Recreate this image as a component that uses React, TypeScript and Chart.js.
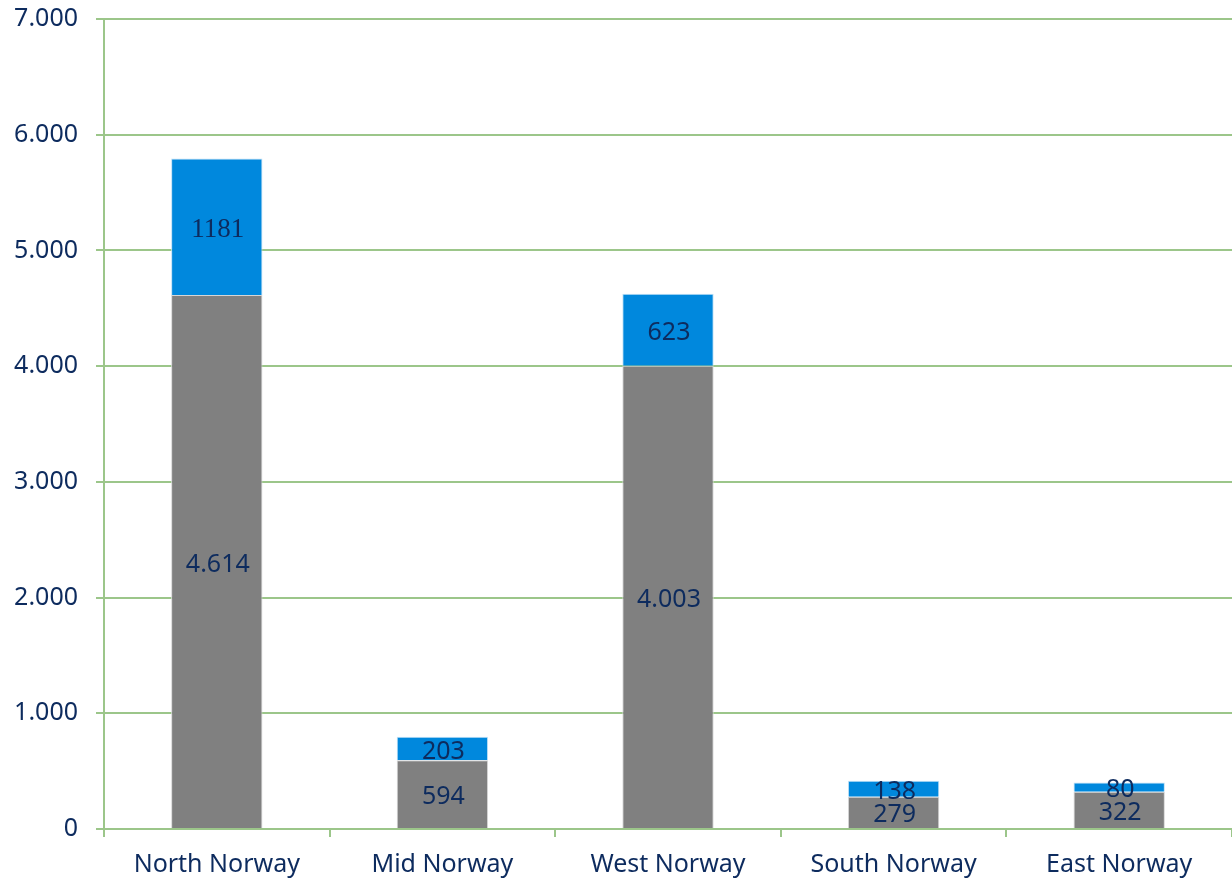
import React, { useEffect, useRef } from "react";
import { Chart, registerables } from "chart.js";

Chart.register(...registerables);

const categories = ["North Norway", "Mid Norway", "West Norway", "South Norway", "East Norway"];
const baseValues = [4614, 594, 4003, 279, 322];
const topValues = [1181, 203, 623, 138, 80];
const topLabelSerif = [true, false, false, false, false];
const yTicks = [0, 1000, 2000, 3000, 4000, 5000, 6000, 7000];

const GRID = "#9cc68a";
const TEXT = "#0d2b5e";
const FONT = "'Noto Sans', 'Open Sans', sans-serif";

function fmt(v: number): string {
  return String(Math.round(v)).replace(/\B(?=(\d{3})+(?!\d))/g, ".");
}

const labelPlugin = {
  id: "segLabels",
  afterDatasetsDraw(chart: any) {
    const ctx = chart.ctx;
    ctx.save();
    ctx.fillStyle = TEXT;
    ctx.textAlign = "center";
    ctx.textBaseline = "middle";
    chart.data.datasets.forEach((ds: any, di: number) => {
      const meta = chart.getDatasetMeta(di);
      meta.data.forEach((el: any, i: number) => {
        const v = ds.data[i] as number;
        const y = (el.y + el.base) / 2;
        const serif = di === 1 && topLabelSerif[i];
        ctx.font = serif ? "27px 'Liberation Serif', serif" : `25px ${FONT}`;
        const text = di === 0 ? fmt(v) : String(v);
        ctx.fillText(text, el.x + 1, y + 3);
      });
    });
    ctx.restore();
  },
};

export default function App() {
  const ref = useRef<HTMLCanvasElement | null>(null);
  useEffect(() => {
    document.body.style.margin = "0";
    const chart = new Chart(ref.current as HTMLCanvasElement, {
      type: "bar",
      data: {
        labels: categories,
        datasets: [
          {
            label: "base",
            data: baseValues,
            backgroundColor: "#808080",
            borderColor: "#d6d6d6",
            borderWidth: 1,
            barPercentage: 0.405,
            categoryPercentage: 1,
          },
          {
            label: "top",
            data: topValues,
            backgroundColor: "#0088dd",
            borderColor: "#bfe0f5",
            borderWidth: 1,
            barPercentage: 0.405,
            categoryPercentage: 1,
          },
        ],
      },
      options: {
        animation: false,
        responsive: true,
        maintainAspectRatio: false,
        layout: { padding: { top: 19, right: 0, left: 0, bottom: 0 } },
        plugins: { legend: { display: false }, tooltip: { enabled: false } },
        scales: {
          x: {
            stacked: true,
            offset: true,
            grid: {
              offset: true,
              drawOnChartArea: false,
              drawTicks: true,
              tickLength: 8,
              color: GRID,
              lineWidth: 2,
            },
            border: { color: GRID, width: 2 },
            ticks: { color: TEXT, font: { family: FONT, size: 25 }, padding: 13, maxRotation: 0 },
            afterFit(scale: any) {
              scale.height = 50;
            },
          },
          y: {
            stacked: true,
            min: 0,
            max: 7000,
            afterBuildTicks(scale: any) {
              scale.ticks = yTicks.map((v) => ({ value: v }));
            },
            grid: { color: GRID, lineWidth: 2, tickLength: 8, drawTicks: true },
            border: { color: GRID, width: 2 },
            ticks: {
              color: TEXT,
              font: { family: FONT, size: 25 },
              padding: 18,
              callback: (v: any) => fmt(Number(v)),
            },
            afterFit(scale: any) {
              scale.width = 104;
              scale.paddingTop = 0;
              scale.paddingBottom = 0;
            },
          },
        },
      },
      plugins: [labelPlugin],
    });
    return () => chart.destroy();
  }, []);
  return (
    <div style={{ width: 1232, height: 879, position: "relative" }}>
      <canvas ref={ref} />
    </div>
  );
}
